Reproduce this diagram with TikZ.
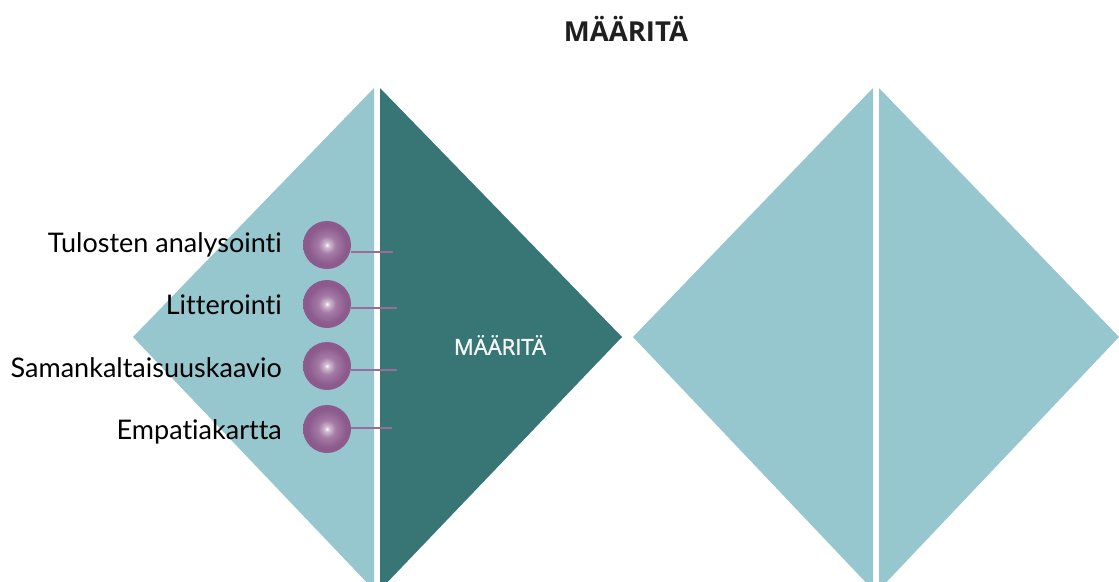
\documentclass[tikz,border=0pt]{standalone}
\usepackage{fontspec}
\setmainfont{Lato}[Ligatures={NoCommon}]
\newfontfamily\titlefont{Open Sans}
\newfontface\innerfont{Open Sans}[FakeBold=1.5]
\definecolor{lightteal}{HTML}{97C7CE}
\definecolor{darkteal}{HTML}{377674}
\definecolor{ballpurple}{HTML}{8D5A8E}
\definecolor{linepurple}{HTML}{9A6C9C}
\pgfdeclareradialshading{purpleball}{\pgfpoint{0bp}{0bp}}{%
  color(0bp)=(white);
  color(2.5bp)=(ballpurple!40!white);
  color(9bp)=(ballpurple!80!white);
  color(20bp)=(ballpurple);
  color(50bp)=(ballpurple)}
\tikzset{
  lighthalf/.style={fill=lightteal, draw=none},
  darkhalf/.style={fill=darkteal, draw=none},
  ball/.style={circle, minimum size=48pt, inner sep=0pt, shading=purpleball},
  itemlabel/.style={anchor=east, inner sep=0pt, font=\fontsize{27}{30}\selectfont, text=black},
  tick/.style={draw=linepurple, line width=1.4pt},
}
\begin{document}
\begin{tikzpicture}[x=1pt,y=-1pt]
\useasboundingbox (0,0) rectangle (1119,581);
% left diamond
\fill[lighthalf] (133,337) -- (374,88) -- (374,590) -- cycle;
\fill[darkhalf] (380,88) -- (622,337) -- (380,590) -- cycle;
% right diamond
\fill[lighthalf] (633,337) -- (873,88) -- (873,590) -- cycle;
\fill[lighthalf] (879,88) -- (1119,337) -- (879,590) -- cycle;
% title
\node[font=\titlefont\bfseries\fontsize{27.5}{30}\selectfont, text=black!88] (title) at (626,29) {MÄÄRITÄ};
\node[font=\innerfont\fontsize{22}{25}\selectfont, text=white!95!darkteal] (inner) at (500,345) {MÄÄRITÄ};
% items
\node[ball] (c1) at (327,245) {};
\node[ball] (c2) at (327,304) {};
\node[ball] (c3) at (327,366) {};
\node[ball] (c4) at (327,429) {};
\coordinate (e1) at (393,252);
\coordinate (e2) at (397,308);
\coordinate (e3) at (397,370);
\coordinate (e4) at (392,428);
\draw[tick] (c1.east |- e1) -- (e1);
\draw[tick] (c2.east |- e2) -- (e2);
\draw[tick] (c3.east |- e3) -- (e3);
\draw[tick] (c4.east |- e4) -- (e4);
\node[itemlabel] (l1) at (282,245) {Tulosten analysointi};
\node[itemlabel] (l2) at (282,305) {Litterointi};
\node[itemlabel] (l3) at (282,368) {Samankaltaisuuskaavio};
\node[itemlabel] (l4) at (282,432) {Empatiakartta};
\end{tikzpicture}
\end{document}
